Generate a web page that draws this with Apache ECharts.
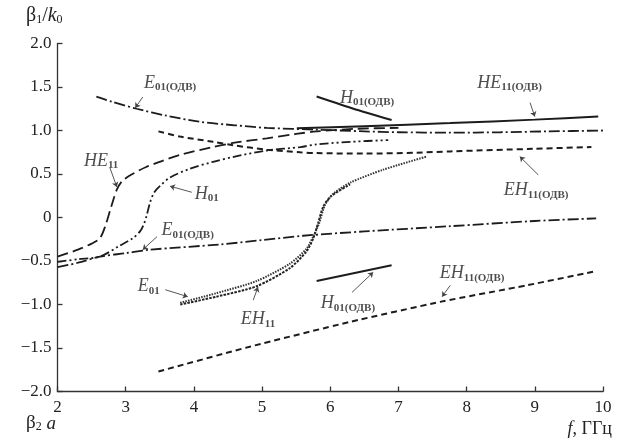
<!DOCTYPE html>
<html><head><meta charset="utf-8">
<script src="https://cdn.jsdelivr.net/npm/echarts@6/dist/echarts.min.js"></script>
<style>html,body{margin:0;padding:0;background:#fff}#c{width:623px;height:442px}</style>
</head><body><div id="c"></div>
<script>
// ---- data (x = frequency / β2a, y = β1/k0) ----
const yTickValues = [-2, -1.5, -1, -0.5, 0, 0.5, 1, 1.5, 2];
const yTickLabels = ['\u22122.0','\u22121.5','\u22121.0','\u22120.5','0','0.5','1.0','1.5','2.0'];
const xTickLabels = ['2','3','4','5','6','7','8','9','10'];

const HE11 = [[2,-0.45],[2.3,-0.37],[2.5,-0.30],[2.62,-0.24],[2.7,-0.10],[2.79,0.13],[2.87,0.32],[2.95,0.42],[3.1,0.50],[3.3,0.58],[3.5,0.64],[3.8,0.72],[4.28,0.81],[4.6,0.86],[5.07,0.91],[5.5,0.96],[5.8,0.99],[6.4,1.02],[7.0,1.03]];
const H01 = [[2,-0.51],[2.3,-0.48],[2.62,-0.45],[2.92,-0.32],[3.1,-0.24],[3.21,-0.16],[3.27,-0.07],[3.31,0.03],[3.36,0.18],[3.42,0.29],[3.5,0.36],[3.65,0.46],[3.94,0.56],[4.28,0.64],[4.6,0.70],[5.07,0.77],[5.56,0.81],[5.8,0.84],[6.3,0.87],[6.85,0.89]];
const E01_ODV_up = [[2.57,1.39],[2.8,1.33],[3.16,1.25],[3.6,1.17],[4.09,1.10],[4.6,1.06],[5.07,1.03],[5.8,1.01],[6.5,0.99],[7.0,0.98],[7.76,0.975],[8.5,0.98],[9.2,0.99],[10,1.0]];
const E01_ODV_low = [[2,-0.57],[2.3,-0.52],[2.62,-0.45],[3.0,-0.41],[3.36,-0.37],[4.38,-0.31],[5.0,-0.26],[5.6,-0.21],[6.5,-0.16],[7.76,-0.10],[9.0,-0.04],[9.9,-0.01]];
const EH11_ODV_up = [[3.48,0.99],[3.8,0.93],[4.28,0.87],[4.58,0.83],[5.07,0.78],[5.56,0.75],[5.8,0.74],[6.5,0.735],[7.27,0.745],[7.76,0.76],[9.0,0.79],[9.83,0.81]];
const EH11_ODV_low = [[3.48,-1.77],[4.82,-1.485],[6.29,-1.20],[7.61,-0.97],[8.88,-0.78],[9.88,-0.62]];
const HE11_ODV = [[5.51,1.025],[6.5,1.05],[7.76,1.085],[9.0,1.125],[9.93,1.16]];
const H01_ODV_up = [[5.80,1.39],[6.34,1.25],[6.90,1.12]];
const H01_ODV_low = [[5.80,-0.73],[6.90,-0.55]];
const E01 = [[3.80,-1.00],[4.33,-0.91],[4.92,-0.79],[5.41,-0.58],[5.65,-0.39],[5.75,-0.24],[5.82,-0.07],[5.90,0.13],[6.02,0.25],[6.29,0.38]];
const EH11 = [[3.80,-0.98],[4.33,-0.87],[4.92,-0.73],[5.41,-0.53],[5.65,-0.36],[5.75,-0.22],[5.84,-0.06],[5.92,0.14],[6.04,0.27],[6.29,0.40],[6.78,0.55],[7.41,0.70]];

// curve labels: [main, subscript, x, y]
const curveLabels = [
  ['E','01(ОДВ)',3.65,1.56],
  ['HE','11',2.64,0.66],
  ['H','01',4.19,0.28],
  ['H','01(ОДВ)',6.54,1.385],
  ['HE','11(ОДВ)',8.63,1.56],
  ['EH','11(ОДВ)',9.02,0.32],
  ['E','01(ОДВ)',3.91,-0.14],
  ['E','01',3.34,-0.78],
  ['EH','11',4.94,-1.16],
  ['H','01(ОДВ)',6.26,-0.98],
  ['EH','11(ОДВ)',8.08,-0.63]
];
// pointer arrows: [fromX, fromY, toX, toY]
const pointerArrows = [
  [3.25,1.385,3.14,1.26],
  [2.77,0.57,2.87,0.35],
  [3.97,0.29,3.65,0.36],
  [8.93,1.32,9.0,1.16],
  [9.05,0.49,8.78,0.70],
  [3.46,-0.22,3.25,-0.37],
  [3.58,-0.83,3.91,-0.91],
  [4.87,-0.95,4.94,-0.80],
  [6.32,-0.86,6.63,-0.63],
  [7.76,-0.78,7.64,-0.91]
];

// ---- chart ----
const SERIF = '"Liberation Serif", "DejaVu Serif", serif';
const INK = '#1c1c1c';
const chart = echarts.init(document.getElementById('c'));

function line(name, data, type, width, color, smooth) {
  return {
    name, type: 'line', data, showSymbol: false, symbol: 'none', silent: true,
    smooth: smooth === undefined ? 0.3 : smooth,
    lineStyle: { color: color || INK, width: width, type: type, cap: 'butt' },
    z: 3
  };
}

const richStyles = {
  m: { fontFamily: SERIF, fontStyle: 'italic', fontSize: 18, color: '#222', lineHeight: 20, verticalAlign: 'bottom' },
  s: { fontFamily: SERIF, fontSize: 11, fontWeight: 'bold', color: '#222', lineHeight: 12, verticalAlign: 'bottom', padding: [0,0,-1,0] }
};

const option = {
  animation: false,
  backgroundColor: '#fff',
  grid: { left: 57.5, right: 20, top: 43.5, bottom: 50.5 },
  xAxis: {
    type: 'value', min: 2, max: 10, interval: 1,
    axisLine: { onZero: false, lineStyle: { color: '#333', width: 1.3 } },
    axisTick: { inside: true, length: 5, lineStyle: { color: '#333', width: 1.3 } },
    axisLabel: { color: '#222', fontFamily: SERIF, fontSize: 17, margin: 8,
      formatter: v => xTickLabels[Math.round(v) - 2] },
    splitLine: { show: false }
  },
  yAxis: {
    type: 'value', min: -2, max: 2, interval: 0.5,
    axisLine: { show: true, onZero: false, lineStyle: { color: '#333', width: 1.3 } },
    axisTick: { show: true, inside: true, length: 5, lineStyle: { color: '#333', width: 1.3 } },
    axisLabel: { color: '#222', fontFamily: SERIF, fontSize: 17, margin: 6,
      formatter: v => { const i = yTickValues.findIndex(t => Math.abs(t - v) < 1e-6); return i >= 0 ? yTickLabels[i] : ''; } },
    splitLine: { show: false }
  },
  graphic: [
    { type: 'text', left: 26, top: 6, style: { rich: {
        b: { fontFamily: SERIF, fontSize: 20, fill: '#222' },
        bs: { fontFamily: SERIF, fontSize: 12, fill: '#222', verticalAlign: 'bottom' },
        bi: { fontFamily: SERIF, fontSize: 20, fontStyle: 'italic', fill: '#222' } },
      text: '{b|β}{bs|1}{b|/}{bi|k}{bs|0}' } },
    { type: 'text', left: 26, top: 414, style: { rich: {
        b: { fontFamily: SERIF, fontSize: 19, fill: '#222' },
        bs: { fontFamily: SERIF, fontSize: 12, fill: '#222', verticalAlign: 'bottom' },
        bi: { fontFamily: SERIF, fontSize: 19, fontStyle: 'italic', fill: '#222' } },
      text: '{b|β}{bs|2}{bi| a}' } },
    { type: 'text', right: 11, top: 420, style: { rich: {
        b: { fontFamily: SERIF, fontSize: 18, fill: '#222' },
        bi: { fontFamily: SERIF, fontSize: 18, fontStyle: 'italic', fill: '#222' } },
      text: '{bi|f}{b|, ГГц}' } }
  ],
  series: [
    line('HE11', HE11, [11, 5], 1.8),
    line('H01', H01, [9, 3, 2, 3, 2, 3], 1.8),
    line('E01(ODV) upper', E01_ODV_up, [11, 3, 2, 3], 1.8),
    line('E01(ODV) lower', E01_ODV_low, [11, 3, 2, 3], 1.8),
    line('EH11(ODV) upper', EH11_ODV_up, [6, 4], 2),
    line('EH11(ODV) lower', EH11_ODV_low, [6, 4], 2, INK, 0.2),
    line('HE11(ODV)', HE11_ODV, 'solid', 2, INK, 0.2),
    line('H01(ODV) upper', H01_ODV_up, 'solid', 2, INK, 0.2),
    line('H01(ODV) lower', H01_ODV_low, 'solid', 2, INK, 0),
    line('E01', E01, [2.5, 1.2], 2, '#222', 0.25),
    line('EH11', EH11, [1.5, 1.2], 2, '#333', 0.25),
    {
      name: 'labels', type: 'scatter', symbolSize: 0, silent: true, z: 5,
      data: curveLabels.map(l => ({ value: [l[2], l[3]], main: l[0], sub: l[1] })),
      label: { show: true, position: 'inside',
        formatter: p => '{m|' + p.data.main + '}{s|' + p.data.sub + '}',
        rich: richStyles },
      markLine: {
        silent: true, symbol: ['none', 'arrow'], symbolSize: 5,
        label: { show: false },
        lineStyle: { color: '#444', width: 0.9, type: 'solid' },
        data: pointerArrows.map(a => [{ coord: [a[0], a[1]] }, { coord: [a[2], a[3]] }])
      }
    }
  ]
};
chart.setOption(option);
</script></body></html>
